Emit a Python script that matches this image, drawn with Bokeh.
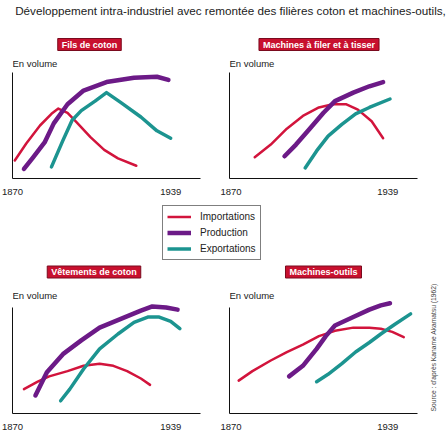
import math
from bokeh.plotting import figure
from bokeh.models import Label, Legend, LegendItem, FixedTicker, Range1d
from bokeh.layouts import column, row
from bokeh.embed import file_html
from bokeh.resources import INLINE

# ---------------- data ----------------
main_title = "Développement intra-industriel avec remontée des filières coton et machines-outils,"
panel_titles = ["Fils de coton", "Machines à filer et à tisser", "Vêtements de coton", "Machines-outils"]
series_names = ["Importations", "Production", "Exportations"]
axis_label = "En volume"
tick_years = [1870, 1939]
source_text = "Source : d'après Kaname Akamatsu (1962)"

# Fils de coton
fils_imp_x = [1871, 1876, 1882, 1887, 1890, 1894, 1898, 1904, 1910, 1916, 1924]
fils_imp_y = [17, 33, 50, 61, 66, 62, 53, 39, 27, 19, 12]
fils_prod_x = [1875, 1879, 1884, 1888, 1894, 1901, 1911, 1923, 1933, 1938]
fils_prod_y = [9, 20, 34, 52, 70, 83, 91, 95, 96, 93]
fils_exp_x = [1887, 1892, 1896, 1900, 1906, 1911, 1917, 1926, 1933, 1939]
fils_exp_y = [11, 36, 55, 64, 73, 81, 72, 58, 45, 38]

# Machines à filer et à tisser
mf_imp_x = [1881, 1888, 1895, 1902, 1909, 1915, 1921, 1926, 1932, 1937]
mf_imp_y = [20, 32, 47, 59, 67, 70, 70, 65, 54, 38]
mf_prod_x = [1894, 1899, 1905, 1911, 1916, 1924, 1931, 1937]
mf_prod_y = [21, 32, 47, 62, 73, 81, 87, 91]
mf_exp_x = [1903, 1908, 1913, 1919, 1925, 1931, 1940]
mf_exp_y = [10, 26, 40, 51, 61, 67, 75]

# Vêtements de coton
vt_imp_x = [1875, 1881, 1886, 1894, 1901, 1908, 1914, 1920, 1926, 1930]
vt_imp_y = [23, 30, 35, 40, 45, 47, 45, 40, 33, 27]
vt_prod_x = [1880, 1885, 1892, 1900, 1908, 1917, 1926, 1931, 1937, 1942]
vt_prod_y = [17, 39, 56, 69, 81, 89, 97, 101, 100, 98]
vt_exp_x = [1891, 1895, 1901, 1908, 1916, 1923, 1929, 1934, 1939, 1943]
vt_exp_y = [12, 23, 42, 61, 75, 86, 91, 91, 87, 80]

# Machines-outils
mo_imp_x = [1874, 1880, 1888, 1895, 1902, 1909, 1916, 1924, 1931, 1936, 1941, 1946]
mo_imp_y = [31, 40, 50, 58, 65, 73, 78, 81, 81, 80, 77, 72]
mo_prod_x = [1896, 1902, 1908, 1912, 1916, 1924, 1931, 1936, 1940]
mo_prod_y = [35, 45, 61, 73, 83, 91, 98, 102, 104]
mo_exp_x = [1908, 1913, 1919, 1925, 1931, 1936, 1942, 1949]
mo_exp_y = [30, 37, 47, 58, 67, 75, 84, 94]

# ---------------- styling ----------------
FONT = "Liberation Sans"
COLORS = ["#D2143C", "#6C1A87", "#1C9490"]
WIDTHS = [2.5, 4.5, 3.5]
BOX_FILL = "#C8102E"
BOX_LINE = "#7A0A1E"
X0, X_AXIS_END = 1870, 1952
Y0, Y_AXIS_END = 0, 100
X_SCALE = 188 / 82.0   # px per year
Y_SCALE = 1.06         # px per unit


def make_panel(ox, oy, width, height, left, bottom, title, title_c, vol_y, series, source=None):
    fl = ox + left
    fw = width - left
    fb = oy + height - bottom
    fh = height - bottom
    x_end = X0 + fw / X_SCALE
    y_end = Y0 + fh / Y_SCALE
    p = figure(width=width, height=height, x_range=Range1d(X0, x_end), y_range=Range1d(Y0, y_end),
               output_backend="svg", toolbar_location=None,
               min_border_left=left, min_border_right=0, min_border_top=0, min_border_bottom=bottom,
               outline_line_color=None, background_fill_color="white", border_fill_color="white")
    p.title_location = None
    p.grid.visible = False

    def dx(xp):
        return X0 + (xp - fl) / X_SCALE

    def dy(yp):
        return Y0 + (fb - yp) / Y_SCALE

    xa = p.xaxis[0]
    xa.ticker = FixedTicker(ticks=tick_years, minor_ticks=[])
    xa.bounds = (X0, X_AXIS_END)
    xa.major_tick_line_color = None
    xa.minor_tick_line_color = None
    xa.major_label_text_font = FONT
    xa.major_label_text_font_size = "9.5px"
    xa.major_label_text_color = "#222222"
    xa.major_label_standoff = 4
    xa.axis_line_color = "#111111"
    ya = p.yaxis[0]
    ya.ticker = FixedTicker(ticks=[], minor_ticks=[])
    ya.bounds = (Y0, Y_AXIS_END)
    ya.major_tick_line_color = None
    ya.minor_tick_line_color = None
    ya.major_label_text_font_size = "0px"
    ya.axis_line_color = "#111111"

    for (xs, ys), c, w in zip(series, COLORS, WIDTHS):
        p.line(xs, ys, line_color=c, line_width=w, line_cap="round", line_join="round")

    p.add_layout(Label(x=dx(title_c[0]), y=dy(title_c[1]), text=title, text_align="center",
                       text_baseline="middle", text_font=FONT, text_font_style="bold",
                       text_font_size="9px", text_color="white",
                       background_fill_color=BOX_FILL, border_line_color=BOX_LINE,
                       padding=(4, 1)))
    p.add_layout(Label(x=X0, y=dy(vol_y), text=axis_label, text_align="left",
                       text_baseline="middle", text_font=FONT, text_font_size="9.5px",
                       text_color="#222222"))
    if source:
        p.add_layout(Label(x=dx(source[0]), y=dy(source[1]), text=source_text, angle=math.pi / 2,
                           text_align="center", text_baseline="middle", text_font=FONT,
                           text_font_size="6.7px", text_color="#444444"))
    return p


p1 = make_panel(0, 32, 220, 168, 12, 22, panel_titles[0], (89, 44), 62.5,
                [(fils_imp_x, fils_imp_y), (fils_prod_x, fils_prod_y), (fils_exp_x, fils_exp_y)])
p2 = make_panel(220, 32, 228, 168, 9, 22, panel_titles[1], (318.5, 44), 62.5,
                [(mf_imp_x, mf_imp_y), (mf_prod_x, mf_prod_y), (mf_exp_x, mf_exp_y)])
p3 = make_panel(0, 262, 220, 177, 12, 26, panel_titles[2], (93.5, 271.5), 295,
                [(vt_imp_x, vt_imp_y), (vt_prod_x, vt_prod_y), (vt_exp_x, vt_exp_y)])
p4 = make_panel(220, 262, 228, 177, 9, 26, panel_titles[3], (323, 271.5), 295,
                [(mo_imp_x, mo_imp_y), (mo_prod_x, mo_prod_y), (mo_exp_x, mo_exp_y)],
                source=(433, 347))

# header
ph = figure(width=448, height=32, x_range=Range1d(0, 448), y_range=Range1d(32, 0),
            x_axis_type=None, y_axis_type=None, output_backend="svg", toolbar_location=None,
            min_border=0, outline_line_color=None)
ph.title_location = None
ph.grid.visible = False
ph.add_layout(Label(x=230, y=10, text=main_title, text_align="center", text_baseline="middle",
                    text_font=FONT, text_font_size="11.7px", text_color="#222222"))

# legend strip
pm = figure(width=448, height=62, x_range=Range1d(0, 1), y_range=Range1d(0, 1),
            x_axis_type=None, y_axis_type=None, output_backend="svg", toolbar_location=None,
            min_border=0, outline_line_color=None)
pm.title_location = None
pm.grid.visible = False
items = []
for name, c, w in zip(series_names, COLORS, WIDTHS):
    r = pm.line([float("nan")], [float("nan")], line_color=c, line_width=w)
    items.append(LegendItem(label=name, renderers=[r]))
legend = Legend(items=items, location=(162, 2), border_line_color="black", border_line_width=1,
                background_fill_color="white", background_fill_alpha=1.0, padding=4, spacing=3,
                glyph_width=24, glyph_height=13, label_height=13, label_standoff=9,
                label_text_font=FONT, label_text_font_size="10px", label_text_color="#222222",
                margin=0)
pm.add_layout(legend)

layout = column(ph, row(p1, p2), pm, row(p3, p4))

open("out.html", "w").write(file_html(layout, INLINE))
